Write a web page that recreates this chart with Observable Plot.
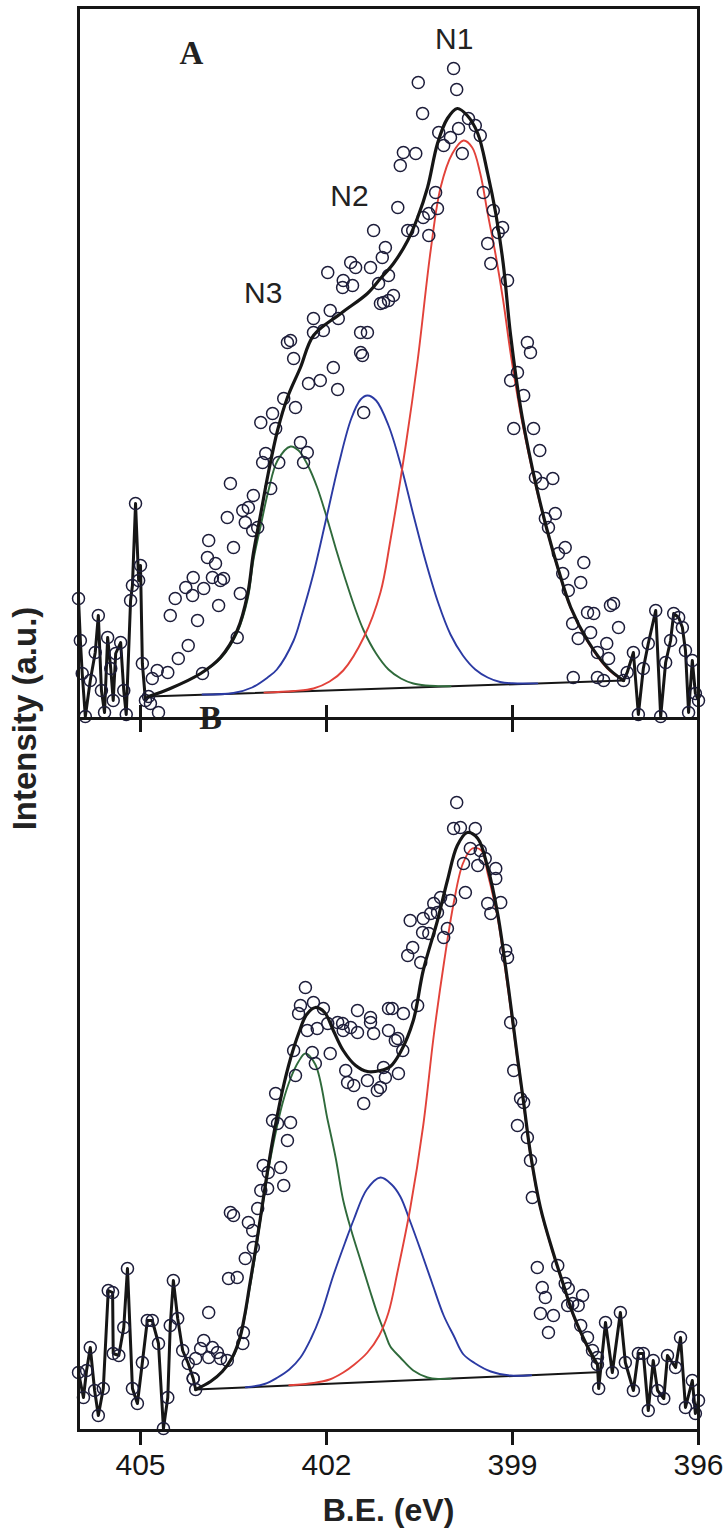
<!DOCTYPE html>
<html><head><meta charset="utf-8">
<script src="https://cdn.jsdelivr.net/npm/d3@7"></script>
<script src="https://cdn.jsdelivr.net/npm/@observablehq/plot@0.6"></script>
<style>
html,body{margin:0;padding:0;background:#fff;}
#wrap{position:relative;width:727px;height:1540px;overflow:hidden;background:#fff;}
#wrap svg{position:absolute;left:0;}
</style></head><body><div id="wrap"></div>
<script>
// ---------- shared ----------
const energyTicks = [405, 402, 399, 396];

// ---------- Panel A (E in eV, intensity in a.u.) ----------
const fitA = [[404.87,22],[404.52,30],[404.03,45],[403.71,61],[403.44,88],[403.27,125],[403.18,165],[403.06,205],[402.94,245],[402.79,288],[402.63,321],[402.42,351],[402.21,383],[401.77,405],[401.34,425],[401.13,440],[400.92,455],[400.69,478],[400.53,501],[400.37,531],[400.21,575],[400.05,600],[399.89,610],[399.73,603],[399.56,585],[399.40,545],[399.27,505],[399.15,455],[399.03,383],[398.87,311],[398.74,268],[398.60,228],[398.44,188],[398.27,151],[398.06,111],[397.79,78],[397.47,51],[397.21,38]];
const n1A = [[403.0,25.9],[402.53,27.5],[402.21,30],[401.95,37],[401.73,48],[401.40,81],[401.13,126],[400.97,178],[400.72,274],[400.53,358],[400.32,468],[400.16,531],[399.97,565],[399.79,578],[399.65,571],[399.52,545],[399.40,505],[399.27,463],[399.15,418],[399.03,365],[398.87,305],[398.74,265],[398.60,226],[398.44,187],[398.27,150],[398.06,110],[397.79,77],[397.47,50],[397.21,38]];
const n2A = [[404.0,24],[403.5,25.5],[403.2,31],[402.95,41],[402.8,49],[402.53,78],[402.4,103],[402.21,145],[402.0,201],[401.8,255],[401.6,300],[401.45,319],[401.34,323],[401.2,318],[401.0,293],[400.8,253],[400.6,204],[400.4,157],[400.2,116],[400.0,84],[399.8,63],[399.6,49],[399.4,41],[399.2,36.5],[399.0,35.2],[398.6,35.1]];
const n3A = [[404.87,22],[404.52,30],[404.03,45],[403.71,60],[403.44,86],[403.27,120],[403.18,158],[403.06,193],[402.94,227],[402.79,258],[402.58,272],[402.45,268],[402.3,253],[402.15,231],[402.0,202],[401.85,170],[401.7,140],[401.55,112],[401.4,88],[401.2,65],[401.0,49],[400.8,40],[400.6,35],[400.4,33],[400.2,32.4],[400.0,32.2]];
const baseA = [[404.87,22],[397.21,38]];
const scatterA = [[404.81,40],[404.73,48],[404.56,46],[404.39,60],[404.23,73],[404.00,45],[404.08,98],[404.52,103],[404.44,120],[404.27,131],[404.15,141],[404.16,123],[403.98,130],[403.92,161],[403.90,178],[403.79,155],[403.84,141],[403.66,140],[403.71,138],[403.74,113],[403.50,171],[403.44,81],[403.39,125],[403.60,201],[403.55,235],[403.35,208],[403.31,196],[403.26,211],[403.18,223],[403.11,191],[403.19,188],[403.03,256],[402.98,265],[402.90,230],[403.06,296],[402.87,305],[402.82,290],[402.77,256],[402.69,320],[402.50,311],[402.42,276],[402.31,266],[402.37,256],[402.63,376],[402.58,378],[402.53,360],[402.29,335],[402.10,338],[401.82,329],[401.89,351],[401.42,363],[401.40,306],[402.21,400],[402.21,386],[402.05,388],[401.94,408],[401.81,400],[401.98,446],[401.74,431],[401.73,438],[401.58,433],[401.61,456],[401.53,451],[401.45,386],[401.34,386],[401.45,366],[401.29,451],[401.24,488],[401.16,435],[401.13,415],[401.00,418],[401.05,471],[401.10,461],[401.00,443],[400.92,423],[401.08,416],[404.84,15],[404.71,6],
[400.85,511],[400.81,553],[400.76,566],[400.69,488],[400.61,488],[400.56,565],[400.52,636],[400.45,605],[400.44,501],[400.35,505],[400.35,483],[400.24,526],[400.21,510],[400.19,586],[400.11,573],[400.00,581],[399.95,650],[399.90,629],[399.87,590],[399.81,565],[399.71,600],[399.60,593],[399.52,583],[399.47,526],[399.40,475],[399.35,455],[399.31,508],[399.23,486],[399.16,491],[399.08,438],[398.76,376],[398.71,366],
[399.03,338],[398.92,346],[398.82,323],[398.98,290],[398.66,290],[398.56,268],[398.63,241],[398.52,235],[398.35,240],[398.47,200],[398.31,205],[398.42,191],[398.26,165],[398.15,171],[397.85,156],[398.19,145],[397.90,136],[398.10,128],[397.37,115],[397.42,113],[397.79,106],[397.69,105],[398.03,95],[397.94,80],[397.74,86],[397.29,91],[397.63,66],[397.48,75],[397.45,60],[398.02,41],[397.63,41],[397.53,38]];
const noiseLeftA = [[406.0,120],[405.97,78],[405.94,45],[405.89,2],[405.81,38],[405.73,66],[405.68,103],[405.63,28],[405.58,6],[405.53,81],[405.48,50],[405.44,18],[405.40,65],[405.32,76],[405.27,28],[405.23,4],[405.16,118],[405.13,133],[405.08,215],[405.03,138],[405.00,153],[404.97,55],[404.92,18],[404.87,22]];
const noiseRightA = [[397.21,38],[397.15,46],[397.05,66],[396.97,4],[396.89,50],[396.81,75],[396.69,108],[396.61,2],[396.53,56],[396.45,78],[396.40,105],[396.32,101],[396.26,91],[396.21,68],[396.16,6],[396.10,58],[396.05,25],[396.0,18]];
const peakLabelsA = [{label:"N1", E:399.94, I:679},{label:"N2", E:401.63, I:522},{label:"N3", E:403.02, I:425}];
const panelLabelA = [{label:"A", E:404.18, I:665}];

// ---------- Panel B ----------
const fitB = [[404.11,41],[403.87,49],[403.68,59],[403.52,73],[403.40,92],[403.32,115],[403.24,145],[403.16,175],[403.06,215],[402.95,260],[402.84,300],[402.71,340],[402.58,372],[402.45,397],[402.32,416],[402.18,423],[402.03,418],[401.89,400],[401.73,380],[401.53,365],[401.34,359],[401.13,360],[400.97,364],[400.81,378],[400.60,410],[400.44,460],[400.21,510],[400.05,550],[399.89,585],[399.73,598],[399.56,592],[399.40,563],[399.24,517],[399.11,463],[398.98,402],[398.92,373],[398.82,328],[398.71,277],[398.55,223],[398.34,177],[398.19,148],[398.02,116],[397.79,84],[397.63,66]];
const n1B = [[402.6,45.2],[402.21,47.5],[401.95,51],[401.73,58],[401.55,66],[401.34,78],[401.15,95],[401.0,118],[400.85,160],[400.65,222],[400.44,305],[400.27,395],[400.1,470],[399.95,527],[399.8,567],[399.65,582],[399.5,580],[399.40,557],[399.24,513],[399.11,458],[398.98,399],[398.92,370],[398.82,326],[398.71,275],[398.55,222],[398.34,176],[398.19,147],[398.02,115],[397.79,83],[397.63,65]];
const n2B = [[403.3,43.2],[403.0,46.5],[402.79,53],[402.6,61],[402.42,73],[402.25,92],[402.10,114],[401.89,155],[401.7,188],[401.56,211],[401.35,241],[401.13,253],[400.95,246],[400.81,234],[400.65,209],[400.48,180],[400.3,148],[400.11,115],[399.95,95],[399.79,76],[399.6,67],[399.35,59],[399.03,55],[398.7,55.3]];
const n3B = [[404.11,41],[403.87,49],[403.68,59],[403.52,72],[403.40,91],[403.32,113],[403.24,142],[403.16,171],[403.06,213],[402.95,256],[402.84,292],[402.71,327],[402.58,352],[402.45,369],[402.34,377],[402.18,366],[401.98,310],[401.85,272],[401.73,230],[401.6,200],[401.45,170],[401.3,140],[401.18,117],[401.05,96],[400.97,84],[400.81,73],[400.6,60],[400.37,53],[400.2,51.5],[400.0,51.9]];
const baseB = [[404.11,41],[397.63,58.2]];
const scatterB = [[399.90,628],[399.95,602],[399.84,603],[399.60,602],[399.68,582],[399.52,580],[399.44,572],[399.79,567],[399.56,565],[399.27,562],[399.27,552],[399.76,538],[400.16,533],[400.00,530],[400.27,527],[399.40,527],[399.19,528],[399.35,517],[400.65,510],[400.44,512],[400.32,517],[400.21,518],[400.45,498],[400.35,497],[400.05,502],[400.11,493],[400.61,483],[400.69,475],[400.48,468],[399.11,480],[399.08,473],[400.94,422],[400.76,417],[400.53,425],[401.00,400],[400.85,392],[399.03,408],
[400.89,390],[400.77,380],[401.08,363],[400.84,357],[401.05,353],[401.13,343],[401.40,327],[401.69,360],[401.66,348],[401.56,345],[401.34,350],[401.18,340],[401.50,398],[401.24,397],[401.61,403],[401.29,408],[401.74,407],[401.82,408],[401.73,400],[401.50,420],[401.29,413],[401.00,422],[401.94,377],
[402.34,443],[402.42,425],[402.21,428],[402.05,422],[402.45,417],[402.31,400],[402.15,402],[401.98,407],[402.53,380],[402.23,378],[402.18,367],[402.50,355],[402.82,337],[402.87,310],[402.58,308],[402.63,290],[402.79,307],[403.02,265],[402.74,263],[402.94,258],[402.69,245],[403.06,240],[402.95,242],[403.55,218],[403.50,215],[403.11,222],[403.26,208],[403.19,200],[403.18,183],[403.31,172],[403.58,152],[403.44,153],[403.90,118],[403.98,90],[404.03,82],[403.84,83],[403.76,78],[403.90,73],[403.60,70],[403.71,72],[403.34,98],[403.35,87],[404.11,72],[404.15,52],
[398.98,360],[398.87,332],[398.82,328],[398.92,305],[398.76,293],[398.71,270],[398.68,233],[398.60,163],[398.27,165],[398.52,143],[398.47,133],[398.15,147],[398.10,142],[397.87,135],[398.03,127],[397.94,125],[398.55,117],[398.34,115],[398.42,98],[398.11,125],[397.90,105],[397.79,93],[397.71,80],[397.63,73]];
const noiseLeftB = [[406.0,58],[405.92,33],[405.87,60],[405.81,83],[405.74,40],[405.68,15],[405.60,42],[405.52,140],[405.45,138],[405.44,77],[405.35,75],[405.27,103],[405.21,162],[405.13,42],[405.05,27],[404.97,68],[404.89,110],[404.81,110],[404.71,87],[404.63,2],[404.56,33],[404.52,105],[404.47,150],[404.40,112],[404.32,80],[404.23,67],[404.15,52],[404.11,41]];
const noiseRightB = [[397.63,66],[397.61,42],[397.50,108],[397.39,58],[397.26,118],[397.18,68],[397.05,40],[396.97,77],[396.89,77],[396.81,20],[396.73,70],[396.66,40],[396.56,32],[396.50,75],[396.37,63],[396.29,93],[396.21,23],[396.10,50],[396.05,17],[396.0,30]];
const panelLabelB = [{label:"B", E:403.87, I:712}];

// ---------- styling ----------
const ink = "#161616", circ = "#1d1d3a", red = "#e2423a", blue = "#2b3aa3", green = "#2f6a3b";
const sans = "'Liberation Sans', Arial, Helvetica, sans-serif";
const serif = "'Liberation Serif', 'Times New Roman', serif";
const X = d => d[0], Y = d => d[1];

function panelMarks(p) {
  return [
    Plot.line(p.base, {x: X, y: Y, stroke: ink, strokeWidth: 2}),
    Plot.line(p.n3, {x: X, y: Y, stroke: green, strokeWidth: 1.9, curve: "catmull-rom"}),
    Plot.line(p.n2, {x: X, y: Y, stroke: blue, strokeWidth: 1.9, curve: "catmull-rom"}),
    Plot.line(p.n1, {x: X, y: Y, stroke: red, strokeWidth: 1.9, curve: "catmull-rom"}),
    Plot.line(p.noiseL, {x: X, y: Y, stroke: ink, strokeWidth: 3}),
    Plot.line(p.noiseR, {x: X, y: Y, stroke: ink, strokeWidth: 3}),
    Plot.dot([...p.scatter, ...p.noiseL, ...p.noiseR], {x: X, y: Y, r: 6, stroke: circ, strokeWidth: 1.5, fill: "none"}),
    Plot.line(p.fit, {x: X, y: Y, stroke: ink, strokeWidth: 3.2, curve: "catmull-rom"}),
    Plot.frame({stroke: ink, strokeWidth: 3})
  ];
}
const svgStyle = {overflow: "visible", background: "transparent", fontFamily: sans, color: ink};

const plotA = Plot.plot({
  width: 727, height: 718, marginTop: 7, marginBottom: 0, marginLeft: 78, marginRight: 29,
  x: {domain: [406, 396], axis: null},
  y: {domain: [0, 711], axis: null},
  style: svgStyle,
  marks: [
    ...panelMarks({base: baseA, n1: n1A, n2: n2A, n3: n3A, fit: fitA, scatter: scatterA, noiseL: noiseLeftA, noiseR: noiseRightA}),
    Plot.axisX(energyTicks.slice(0, 3), {anchor: "bottom", tickSize: 27, dy: -13, strokeWidth: 3, tickFormat: () => "", label: null}),
    Plot.text(peakLabelsA, {x: "E", y: "I", text: "label", fontSize: 30, fill: "#222", fontFamily: sans}),
    Plot.text(panelLabelA, {x: "E", y: "I", text: "label", fontSize: 33, fontWeight: "bold", fill: "#222", fontFamily: serif}),
    Plot.text(["Intensity (a.u.)"], {frameAnchor: "bottom-left", dx: -53, rotate: -90, textAnchor: "middle", lineAnchor: "middle", fontSize: 33, fontWeight: "bold", fill: "#222", fontFamily: sans})
  ]
});

const plotB = Plot.plot({
  width: 727, height: 822, marginTop: 0, marginBottom: 110, marginLeft: 78, marginRight: 29,
  x: {domain: [406, 396], axis: null},
  y: {domain: [0, 712], axis: null},
  style: svgStyle,
  marks: [
    ...panelMarks({base: baseB, n1: n1B, n2: n2B, n3: n3B, fit: fitB, scatter: scatterB, noiseL: noiseLeftB, noiseR: noiseRightB}),
    Plot.axisX(energyTicks, {anchor: "bottom", tickSize: 15, tickPadding: 8, fontSize: 30, strokeWidth: 3, label: null}),
    Plot.text(panelLabelB, {x: "E", y: "I", text: "label", fontSize: 34, fontWeight: "bold", fill: "#222", fontFamily: serif}),
    Plot.text(["B.E. (eV)"], {frameAnchor: "bottom", dy: 90, fontSize: 32, fontWeight: "bold", fill: "#222", fontFamily: sans})
  ]
});

const wrap = document.getElementById("wrap");
plotA.style.top = "0px";
plotB.style.top = "718px";
wrap.appendChild(plotB);
wrap.appendChild(plotA);
</script>
</body></html>
